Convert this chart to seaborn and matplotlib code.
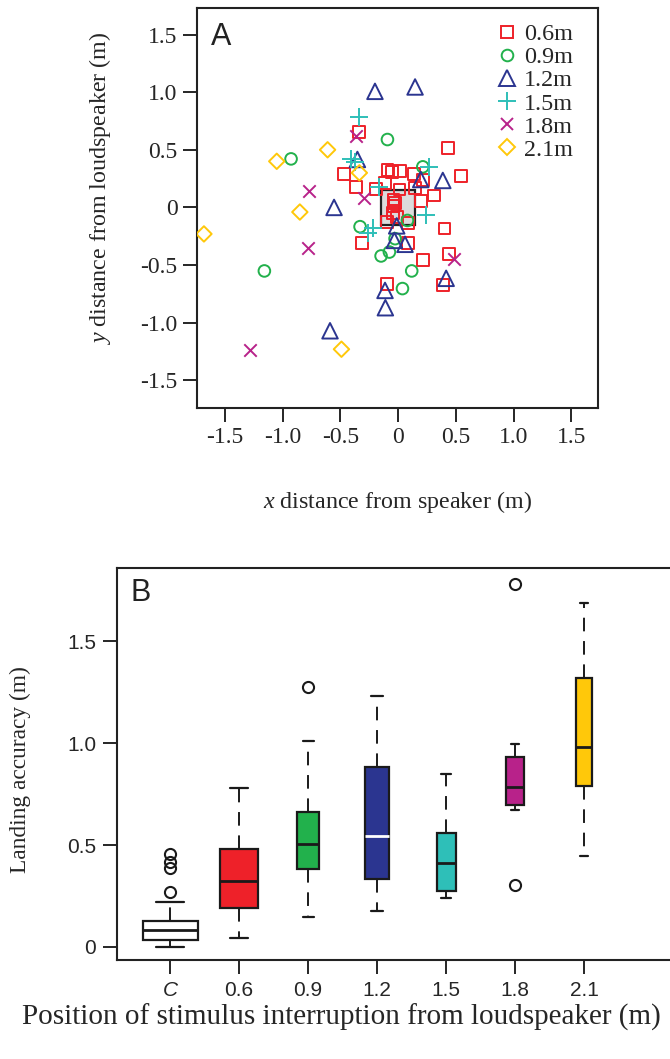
import matplotlib
matplotlib.use("Agg")
import matplotlib.pyplot as plt
import seaborn as sns
import pandas as pd
from matplotlib.patches import Rectangle
from matplotlib.lines import Line2D

# ---------------- data ----------------
# Panel A: landing positions relative to the loudspeaker (m), per interruption distance
sq_x = [-0.340, 0.433, -0.468, -0.364, 0.543, -0.092, -0.050, 0.020, 0.139, 0.219,
        -0.192, -0.110, 0.012, 0.147, 0.309, 0.200, -0.040, -0.040, -0.098, 0.089,
        -0.312, 0.089, 0.401, 0.219, 0.441, -0.098, 0.388, -0.030, -0.045, -0.010]
sq_y = [0.655, 0.517, 0.291, 0.179, 0.271, 0.323, 0.306, 0.318, 0.292, 0.240,
        0.160, 0.214, 0.156, 0.166, 0.104, 0.058, 0.069, 0.010, -0.125, -0.136,
        -0.306, -0.306, -0.183, -0.456, -0.407, -0.662, -0.672, 0.040, -0.050, -0.080]

ci_x = [-0.926, -0.092, 0.214, -0.329, 0.081, -0.026, -0.075, -0.147, 0.118, 0.038, -1.157]
ci_y = [0.421, 0.589, 0.352, -0.167, -0.113, -0.271, -0.387, -0.421, -0.551, -0.704, -0.551]

tr_x = [-0.352, -0.554, 0.196, 0.387, -0.012, -0.032, 0.060, -0.113, -0.110, 0.416,
        -0.589, -0.200, 0.147]
tr_y = [0.416, 0.000, 0.242, 0.234, -0.160, -0.286, -0.320, -0.720, -0.870, -0.615,
        -1.070, 1.007, 1.045]

pl_x = [-0.335, -0.410, -0.370, -0.165, 0.270, 0.242, -0.260, -0.220]
pl_y = [0.785, 0.420, 0.390, 0.179, 0.355, -0.069, -0.220, -0.180]

cr_x = [-0.367, -0.773, -0.297, -0.779, -1.280, 0.488]
cr_y = [0.623, 0.141, 0.084, -0.355, -1.240, -0.444]

di_x = [-1.680, -1.050, -0.850, -0.610, -0.335, -0.490]
di_y = [-0.230, 0.400, -0.040, 0.500, 0.300, -1.230]

legend_labels = ["0.6m", "0.9m", "1.2m", "1.5m", "1.8m", "2.1m"]

# Panel B: landing accuracy (m) per group
acc_C = [0.000, 0.004, 0.008, 0.010, 0.012, 0.015, 0.018, 0.020, 0.022, 0.024, 0.025,
         0.027, 0.029, 0.030, 0.032, 0.033, 0.034,
         0.036, 0.040, 0.043, 0.046, 0.050, 0.053, 0.056, 0.060, 0.062, 0.065, 0.068,
         0.070, 0.073, 0.076, 0.078, 0.080, 0.082,
         0.084, 0.086, 0.089, 0.091, 0.094, 0.097, 0.100, 0.102, 0.105, 0.108, 0.110,
         0.113, 0.115, 0.118, 0.120, 0.123, 0.125,
         0.128, 0.132, 0.136, 0.140, 0.145, 0.150, 0.156, 0.162, 0.170, 0.178, 0.188,
         0.200, 0.219,
         0.268, 0.386, 0.418, 0.454]
acc_06 = [0.043, 0.067, 0.080, 0.123, 0.156, 0.159, 0.163, 0.185, 0.195, 0.208, 0.222,
          0.241, 0.250, 0.310, 0.319, 0.322, 0.323, 0.325, 0.326, 0.336, 0.406, 0.437,
          0.441, 0.517, 0.551, 0.600, 0.607, 0.669, 0.674, 0.738, 0.779]
acc_09 = [0.145, 0.272, 0.369, 0.394, 0.412, 0.506, 0.563, 0.596, 0.730, 1.013, 1.276]
acc_12 = [0.175, 0.288, 0.311, 0.333, 0.452, 0.545, 0.546, 0.729, 0.742, 0.884, 1.027,
          1.055, 1.230]
acc_15 = [0.240, 0.252, 0.284, 0.360, 0.466, 0.555, 0.575, 0.850]
acc_18 = [0.304, 0.670, 0.720, 0.783, 0.866, 0.997, 1.780]
acc_21 = [0.446, 0.780, 0.820, 1.140, 1.380, 1.690]

box_categories = ["C", "0.6", "0.9", "1.2", "1.5", "1.8", "2.1"]

# ---------------- style ----------------
colors = ["#EE2129", "#22B14C", "#2B3590", "#2EBFB8", "#B8228A", "#FFC80A"]
box_fill = ["white"] + colors

sns.set_theme(style="ticks")
plt.rcParams["font.family"] = ["Liberation Serif", "DejaVu Serif"]
plt.rcParams["mathtext.fontset"] = "custom"
plt.rcParams["mathtext.rm"] = "Liberation Serif"
plt.rcParams["mathtext.it"] = "Liberation Serif:italic"
plt.rcParams["axes.linewidth"] = 1.5

W, H = 670, 1059
fig = plt.figure(figsize=(W / 100, H / 100), dpi=100)

# ---------------- panel A ----------------
axA = fig.add_axes([197 / W, 1 - 408 / H, 401 / W, 400 / H])
axA.add_patch(Rectangle((-0.15, -0.15), 0.30, 0.30, facecolor="#DCDCDC",
                        edgecolor="#222222", linewidth=1.6, zorder=1))

series = [
    (sq_x, sq_y, "s", 72, True),
    (ci_x, ci_y, "o", 70, True),
    (tr_x, tr_y, "^", 125, True),
    (pl_x, pl_y, "+", 150, False),
    (cr_x, cr_y, "x", 80, False),
    (di_x, di_y, "D", 62, True),
]
handles = []
for (xs, ys, mk, sz, filled), col, lab in zip(series, colors, legend_labels):
    if filled:
        sns.scatterplot(x=xs, y=ys, ax=axA, marker=mk, s=sz, facecolors="none",
                        edgecolor=col, linewidth=1.4, zorder=3)
        handles.append(Line2D([], [], marker=mk, linestyle="none", markersize=sz ** 0.5,
                              markerfacecolor="none", markeredgecolor=col,
                              markeredgewidth=1.4, label=lab))
    else:
        sns.scatterplot(x=xs, y=ys, ax=axA, marker=mk, s=sz, color=col,
                        linewidth=1.4, zorder=3)
        handles.append(Line2D([], [], marker=mk, linestyle="none", markersize=sz ** 0.5,
                              color=col, markeredgewidth=1.4, label=lab))

axA.set_xlim(-1.74, 1.73)
axA.set_ylim(-1.74, 1.73)
ticks = [-1.5, -1.0, -0.5, 0, 0.5, 1.0, 1.5]
tick_labels = ["-1.5", "-1.0", "-0.5", "0", "0.5", "1.0", "1.5"]
axA.set_xticks(ticks)
axA.set_xticklabels(tick_labels)
axA.set_yticks(ticks)
axA.set_yticklabels(tick_labels)
axA.tick_params(direction="out", length=10, width=1.4, labelsize=17, pad=4)
for sp in axA.spines.values():
    sp.set_visible(True)
    sp.set_linewidth(1.5)
    sp.set_color("#222222")
axA.set_xlabel("")
axA.set_ylabel("")
axA.legend(handles=handles, loc="upper right", bbox_to_anchor=(0.9626, 0.986),
           frameon=False, fontsize=17.4, handletextpad=0.1, labelspacing=0.05,
           borderaxespad=0.0, handlelength=1.2)
axA.text(0.035, 0.965, "A", transform=axA.transAxes, ha="left", va="top",
         fontsize=22, family="Liberation Sans", color="#222222")

fig.text(398 / W, 1 - 502 / H, r"$\it{x}$ distance from speaker (m)",
         ha="center", va="center", fontsize=17.3)
fig.text(100 / W, 1 - 188 / H, r"$\it{y}$ distance from loudspeaker (m)",
         ha="center", va="center", rotation=90, fontsize=17.3)

# ---------------- panel B ----------------
axB = fig.add_axes([117 / W, 1 - 960 / H, (W - 117) / W, 392 / H])
acc_groups = [acc_C, acc_06, acc_09, acc_12, acc_15, acc_18, acc_21]
df = pd.DataFrame({
    "group": [c for c, vals in zip(box_categories, acc_groups) for _ in vals],
    "accuracy": [v for vals in acc_groups for v in vals],
})
n_max = max(len(v) for v in acc_groups)

for cat, vals, fill in zip(box_categories, acc_groups, box_fill):
    width = 0.8 * (len(vals) / n_max) ** 0.5
    med_col = "white" if cat == "1.2" else "#1A1A1A"
    sns.boxplot(data=df[df["group"] == cat], x="group", y="accuracy",
                order=box_categories, ax=axB, width=width, color=fill,
                saturation=1, linecolor="#1A1A1A", linewidth=1.6,
                whis=1.5,
                whiskerprops=dict(linestyle=(0, (7, 5)), linewidth=1.4),
                capprops=dict(linewidth=1.6),
                medianprops=dict(color=med_col, linewidth=2.0),
                flierprops=dict(marker="o", markersize=8, markerfacecolor="none",
                                markeredgecolor="#1A1A1A", markeredgewidth=1.5))

axB.set_xlim(-0.77, (W - 170) / 69)
axB.set_ylim(-0.064, 1.86)
axB.set_yticks([0, 0.5, 1.0, 1.5])
axB.set_yticklabels(["0", "0.5", "1.0", "1.5"])
axB.set_xticks(range(len(box_categories)))
axB.set_xticklabels(box_categories)
axB.tick_params(direction="out", length=10, width=1.4, labelsize=15, pad=5)
for lab in axB.get_xticklabels() + axB.get_yticklabels():
    lab.set_family("Liberation Sans")
axB.get_xticklabels()[0].set_fontstyle("italic")
for name, sp in axB.spines.items():
    sp.set_visible(name != "right")
    sp.set_linewidth(1.5)
    sp.set_color("#222222")
axB.set_xlabel("")
axB.set_ylabel("")
axB.text(0.025, 0.975, "B", transform=axB.transAxes, ha="left", va="top",
         fontsize=22, family="Liberation Sans", color="#222222")

fig.text(20 / W, 1 - 770 / H, "Landing accuracy (m)", ha="center", va="center",
         rotation=90, fontsize=16.8)
fig.text(341 / W, 1 - 1017 / H, "Position of stimulus interruption from loudspeaker (m)",
         ha="center", va="center", fontsize=21)

fig.savefig("out.png", dpi=100)
